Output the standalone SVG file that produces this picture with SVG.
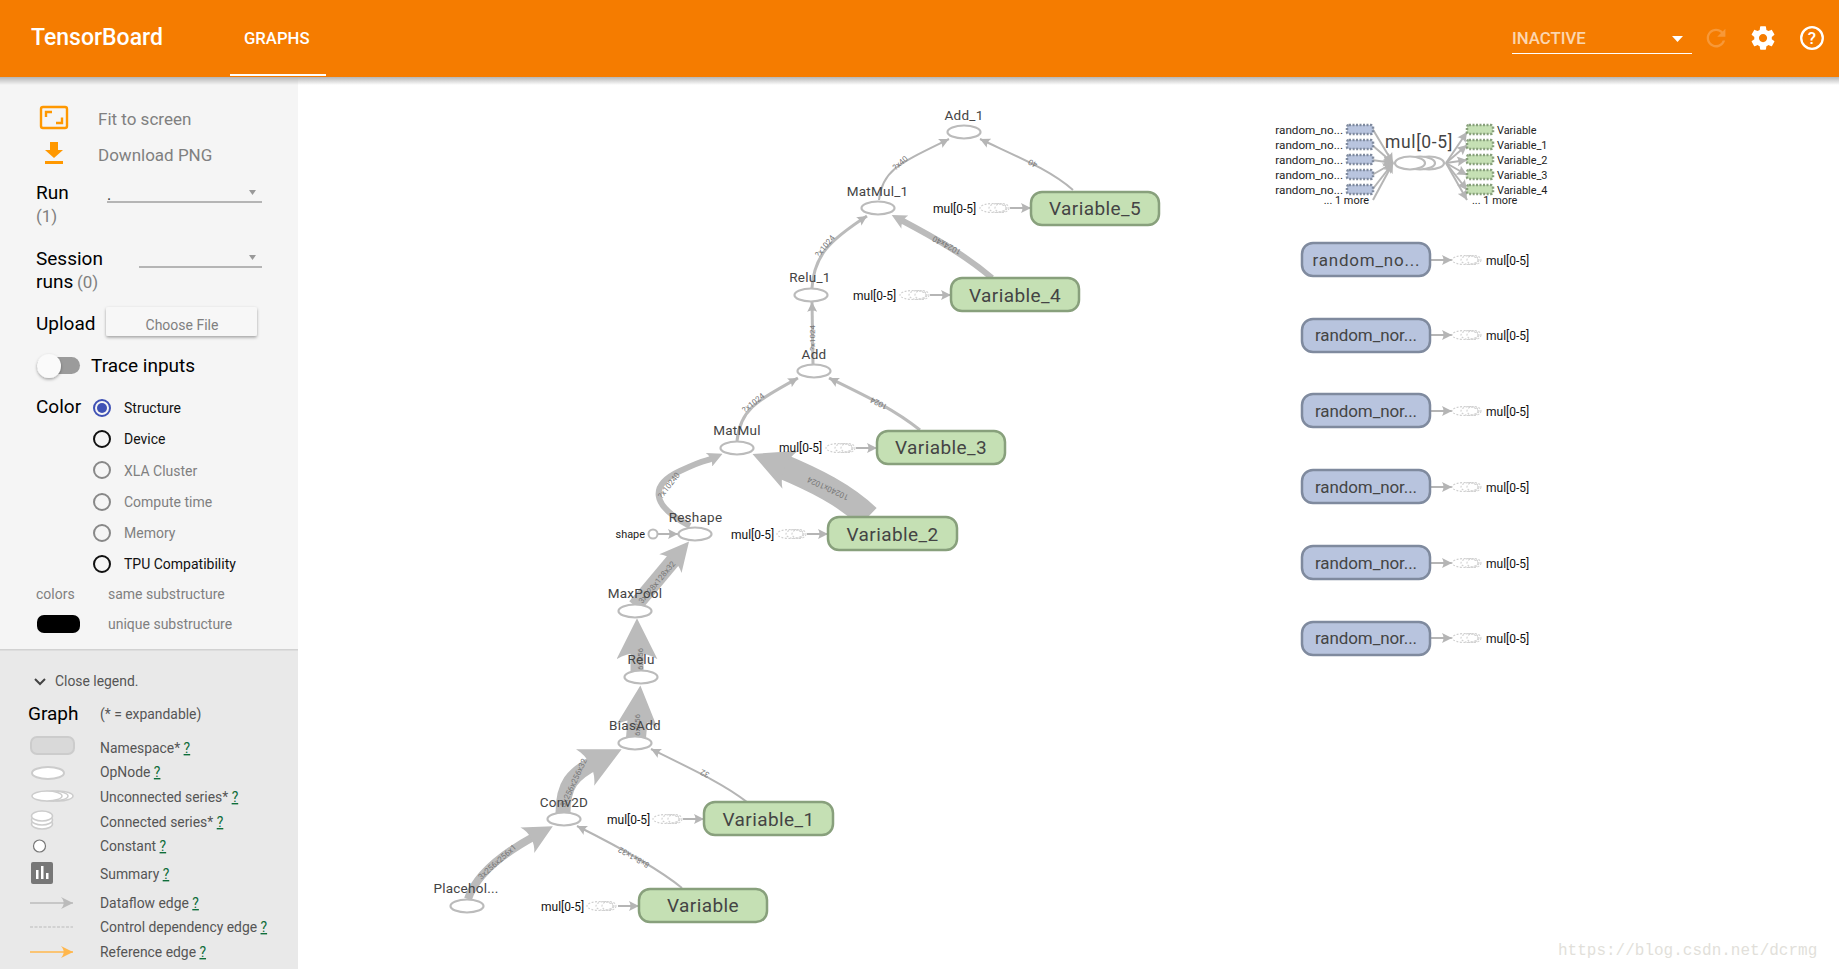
<svg xmlns="http://www.w3.org/2000/svg" width="1839" height="969" viewBox="0 0 1839 969">
<style>
text{font-family:Roboto,"Liberation Sans",sans-serif}
.side{font-size:19px;fill:#000}
.grey{font-size:17px;fill:#808080}
.radio{font-size:14px;fill:#111}
.radiog{font-size:14px;fill:#808080}
.leg{font-size:13.9px;fill:#555}
.q{fill:#0f6d3a;text-decoration:underline}
.op{fill:#fff;stroke:#bbb;stroke-width:2.2}
.opl{font-size:13.5px;fill:#444;text-anchor:middle;letter-spacing:.25px}
.var rect{fill:#c5e0b4;stroke:#88a07c;stroke-width:2.5}
.rnd rect{fill:#b8c4de;stroke:#7f8a9e;stroke-width:2.5}
.box{font-size:19px;fill:#444;text-anchor:middle;letter-spacing:.4px}
.rn{font-size:17px;fill:#444;text-anchor:middle}
.mul{font-size:12px;fill:#111}
.sm{font-size:11.7px;fill:#222}
.smr{font-size:10.9px;fill:#222}
.edge{fill:none;stroke:#bbb}
.thin{fill:none;stroke:#b5b5b5;stroke-width:2}
.el{font-size:8px;fill:#777;text-anchor:middle}
.dash{fill:none;stroke:#d0d0d0;stroke-width:1.1;stroke-dasharray:2 1.5}
.rs{stroke-width:1.2;stroke-dasharray:2 1.5}
</style>
<defs>
<linearGradient id="sh" x1="0" y1="0" x2="0" y2="1"><stop offset="0" stop-color="#b5b5b5"/><stop offset="1" stop-color="#b5b5b5" stop-opacity="0"/></linearGradient>
<filter id="ds" x="-30%" y="-30%" width="160%" height="170%"><feDropShadow dx="0" dy="1.500" stdDeviation="1.800" flood-color="#000" flood-opacity=".35"/></filter>
<marker id="a9" viewBox="0 0 10 10" refX="10" refY="5" markerUnits="userSpaceOnUse" markerWidth="10" markerHeight="10" orient="auto"><path d="M0 0L10 5L0 10C2 7 2 3 0 0Z" fill="#b5b5b5"/></marker>
<marker id="a14" viewBox="0 0 10 10" refX="3" refY="5" markerUnits="userSpaceOnUse" markerWidth="15" markerHeight="15" orient="auto"><path d="M0 0L10 5L0 10C2 7 2 3 0 0Z" fill="#bbb"/></marker>
<marker id="a28" viewBox="0 0 10 10" refX="3" refY="5" markerUnits="userSpaceOnUse" markerWidth="29" markerHeight="29" orient="auto"><path d="M0 0L10 5L0 10C2 7 2 3 0 0Z" fill="#bbb"/></marker>
<marker id="a40" viewBox="0 0 10 10" refX="3" refY="5" markerUnits="userSpaceOnUse" markerWidth="41" markerHeight="41" orient="auto"><path d="M0 0L10 5L0 10C2 7 2 3 0 0Z" fill="#bbb"/></marker>
<marker id="lg" viewBox="0 0 10 10" refX="10" refY="5" markerUnits="userSpaceOnUse" markerWidth="12" markerHeight="12" orient="auto"><path d="M0 0L10 5L0 10C3 7 3 3 0 0Z" fill="#bbb"/></marker>
<marker id="lo" viewBox="0 0 10 10" refX="10" refY="5" markerUnits="userSpaceOnUse" markerWidth="12" markerHeight="12" orient="auto"><path d="M0 0L10 5L0 10C3 7 3 3 0 0Z" fill="#ffb74d"/></marker>
<g id="dashes"><ellipse class="dash" cx="22" cy="0" rx="7" ry="4.500"/><ellipse class="dash" cx="18" cy="0" rx="9" ry="4.500"/><ellipse class="dash" cx="13" cy="0" rx="13" ry="4.500"/></g>
</defs>

<rect width="1839" height="969" fill="#fff"/>

<g id="sidebar">
<rect x="0" y="77" width="298" height="573" fill="#f5f5f5"/>
<rect x="0" y="650" width="298" height="319" fill="#e9e9e9"/>
<rect x="0" y="649" width="298" height="1.500" fill="#d2d2d2"/>
<g fill="none" stroke="#ff9800" stroke-width="2.400"><rect x="41" y="107" width="26" height="21" rx="2"/><path d="M46 117V112H52M62 117.500V123H56"/></g>
<text x="98" y="125" class="grey">Fit to screen</text>
<path d="M50 142H58V150H63L54 158L45 150H50ZM45 161H63V164H45Z" fill="#ff9800"/>
<text x="98" y="161" class="grey">Download PNG</text>
<text x="36" y="199" class="side">Run</text>
<text x="36" y="222" class="grey">(1)</text>
<text x="107" y="200" font-size="16" fill="#333">.</text>
<rect x="107" y="201.500" width="155" height="1" fill="#777"/>
<path d="M249 190H256L252.500 195Z" fill="#999"/>
<text x="36" y="265" class="side">Session</text>
<text x="36" y="288" class="side">runs</text>
<text x="77" y="288" class="grey">(0)</text>
<rect x="139" y="266.500" width="123" height="1" fill="#777"/>
<path d="M249 255H256L252.500 260Z" fill="#999"/>
<text x="36" y="330" class="side">Upload</text>
<rect x="106" y="307" width="151" height="29" rx="2" fill="#f7f7f7" filter="url(#ds)"/>
<text x="182" y="330" font-size="14" fill="#808080" text-anchor="middle">Choose File</text>
<rect x="37" y="357" width="43" height="17" rx="8.500" fill="#9b9b9b"/>
<circle cx="49" cy="366" r="12" fill="#fafafa" filter="url(#ds)"/>
<text x="91" y="372" class="side">Trace inputs</text>
<text x="36" y="413" class="side">Color</text>
<circle cx="102" cy="408" r="8" fill="none" stroke="#3f51b5" stroke-width="2"/><circle cx="102" cy="408" r="5" fill="#3f51b5"/>
<circle cx="102" cy="439" r="8" fill="none" stroke="#111" stroke-width="2"/>
<circle cx="102" cy="470" r="8" fill="none" stroke="#888" stroke-width="2"/>
<circle cx="102" cy="502" r="8" fill="none" stroke="#888" stroke-width="2"/>
<circle cx="102" cy="533" r="8" fill="none" stroke="#888" stroke-width="2"/>
<circle cx="102" cy="564" r="8" fill="none" stroke="#111" stroke-width="2"/>
<text x="124" y="413" class="radio">Structure</text>
<text x="124" y="444" class="radio">Device</text>
<text x="124" y="476" class="radiog">XLA Cluster</text>
<text x="124" y="507" class="radiog">Compute time</text>
<text x="124" y="538" class="radiog">Memory</text>
<text x="124" y="569" class="radio">TPU Compatibility</text>
<text x="36" y="599" class="radiog">colors</text>
<text x="108" y="599" class="radiog">same substructure</text>
<rect x="37" y="615" width="43" height="18" rx="7" fill="#000"/>
<text x="108" y="629" class="radiog">unique substructure</text>
<path d="M35 679L40 684L45 679" fill="none" stroke="#444" stroke-width="2"/>
<text x="55" y="686" class="leg">Close legend.</text>
<text x="28" y="720" class="side">Graph</text>
<text x="100" y="719" class="leg">(* = expandable)</text>
<rect x="31" y="737" width="43" height="17" rx="6" fill="#d9d9d9" stroke="#ccc" stroke-width="2"/>
<text x="100" y="753" class="leg">Namespace* <tspan class="q">?</tspan></text>
<ellipse cx="48" cy="773" rx="16" ry="6" fill="#fff" stroke="#ccc" stroke-width="2"/>
<text x="100" y="777" class="leg">OpNode <tspan class="q">?</tspan></text>
<g fill="#fff" stroke="#ccc" stroke-width="1.500"><ellipse cx="58" cy="796" rx="15" ry="5"/><ellipse cx="53" cy="796" rx="15" ry="5"/><ellipse cx="47" cy="796" rx="15" ry="5"/></g>
<text x="100" y="802" class="leg">Unconnected series* <tspan class="q">?</tspan></text>
<g fill="#fff" stroke="#ccc" stroke-width="1.500"><ellipse cx="42" cy="824" rx="10.500" ry="5"/><ellipse cx="42" cy="820" rx="10.500" ry="5"/><ellipse cx="42" cy="816" rx="10.500" ry="5"/></g>
<text x="100" y="827" class="leg">Connected series* <tspan class="q">?</tspan></text>
<circle cx="39.500" cy="846" r="6" fill="#fff" stroke="#777" stroke-width="1.200"/>
<text x="100" y="851" class="leg">Constant <tspan class="q">?</tspan></text>
<rect x="31" y="862" width="22" height="22" rx="2" fill="#777"/>
<path d="M36 870h2.500v9H36zM41 866h2.500v13H41zM46 873h2.500v6H46z" fill="#fff"/>
<text x="100" y="879" class="leg">Summary <tspan class="q">?</tspan></text>
<path d="M30 903H73" stroke="#bbb" stroke-width="1.500" marker-end="url(#lg)"/>
<text x="100" y="908" class="leg">Dataflow edge <tspan class="q">?</tspan></text>
<path d="M30 927H73" stroke="#bbb" stroke-width="1.200" stroke-dasharray="3 1.500"/>
<text x="100" y="932" class="leg">Control dependency edge <tspan class="q">?</tspan></text>
<path d="M30 952H73" stroke="#ffb74d" stroke-width="1.500" marker-end="url(#lo)"/>
<text x="100" y="957" class="leg">Reference edge <tspan class="q">?</tspan></text>
</g>

<g id="connectors">
<path class="edge" stroke-width="8" marker-end="url(#a28)" d="M468 899C476 875 500 855 535 836"/>
<path class="edge" stroke-width="15" marker-end="url(#a40)" d="M563 813C563 785 572 774 596 762"/>
<path class="edge" stroke-width="20" marker-end="url(#a40)" d="M636 738L638 714"/>
<path class="edge" stroke-width="13" marker-end="url(#a40)" d="M637 672V647"/>
<path class="edge" stroke-width="15" marker-end="url(#a28)" d="M635 606L676 557"/>
<path class="edge" stroke-width="25" marker-end="url(#a40)" d="M868 517C845 495 815 480 779 465"/>
<path class="edge" stroke-width="6" marker-end="url(#a14)" d="M690 526C650 505 650 485 680 471S702 463 713 458"/>
<path class="edge" stroke-width="3" marker-end="url(#a9)" d="M737 441C740 410 755 402 798 378"/>
<path class="edge" stroke-width="3" marker-end="url(#a9)" d="M920 430C895 410 870 398 829 378"/>
<path class="edge" stroke-width="3" marker-end="url(#a9)" d="M813 364L812 302"/>
<path class="edge" stroke-width="3" marker-end="url(#a9)" d="M812 288C814 255 830 240 867 216"/>
<path class="edge" stroke-width="6" marker-end="url(#a14)" d="M992 278C965 255 935 238 901 220"/>
<path class="thin" marker-end="url(#a9)" d="M879 200C882 170 900 163 949 139"/>
<path class="thin" marker-end="url(#a9)" d="M1073 190C1050 170 1020 158 980 139"/>
<path class="thin" marker-end="url(#a9)" d="M747 802C725 785 700 773 651 749"/>
<path class="thin" marker-end="url(#a9)" d="M682 888C660 870 625 850 577 826"/>
<path class="thin" marker-end="url(#a9)" d="M658 534H678"/>
<path class="thin" marker-end="url(#a9)" d="M1010 208H1031"/>
<path class="thin" marker-end="url(#a9)" d="M930 295H951"/>
<path class="thin" marker-end="url(#a9)" d="M856 448H877"/>
<path class="thin" marker-end="url(#a9)" d="M807 534H828"/>
<path class="thin" marker-end="url(#a9)" d="M683 819H704"/>
<path class="thin" marker-end="url(#a9)" d="M618 906H639"/>
<path class="thin" marker-end="url(#a9)" d="M1431 260H1452"/>
<path class="thin" marker-end="url(#a9)" d="M1431 335H1452"/>
<path class="thin" marker-end="url(#a9)" d="M1431 411H1452"/>
<path class="thin" marker-end="url(#a9)" d="M1431 487H1452"/>
<path class="thin" marker-end="url(#a9)" d="M1431 563H1452"/>
<path class="thin" marker-end="url(#a9)" d="M1431 638H1452"/>
<path class="thin" marker-end="url(#a9)" d="M1372 128L1393 163"/>
<path class="thin" marker-end="url(#a9)" d="M1372 145L1393 163"/>
<path class="thin" marker-end="url(#a9)" d="M1372 160L1393 163"/>
<path class="thin" marker-end="url(#a9)" d="M1372 175L1393 163"/>
<path class="thin" marker-end="url(#a9)" d="M1372 190L1393 163"/>
<path class="thin" marker-end="url(#a9)" d="M1373 200L1393 163"/>
<path class="thin" marker-end="url(#a9)" d="M1446 163L1467 132"/>
<path class="thin" marker-end="url(#a9)" d="M1446 163L1467 145"/>
<path class="thin" marker-end="url(#a9)" d="M1446 163L1467 160"/>
<path class="thin" marker-end="url(#a9)" d="M1446 163L1467 175"/>
<path class="thin" marker-end="url(#a9)" d="M1446 163L1467 190"/>
<path class="thin" marker-end="url(#a9)" d="M1446 163L1467 200"/>
<text class="el" transform="translate(902 165) rotate(-40)">?x40</text>
<text class="el" transform="translate(1034 161) rotate(207)">40</text>
<text class="el" transform="translate(948 243) rotate(208)">1024x40</text>
<text class="el" transform="translate(827 248) rotate(-50)">?x1024</text>
<text class="el" transform="translate(815 338) rotate(-90)">?x1024</text>
<text class="el" transform="translate(880 401) rotate(207)">1024</text>
<text class="el" transform="translate(755 405) rotate(-38)">?x1024</text>
<text class="el" transform="translate(671 487) rotate(-52)">?x10240</text>
<text class="el" transform="translate(829 486) rotate(205)">10240x1024</text>
<text class="el" transform="translate(659 584) rotate(-50)">3x128x128x32</text>
<text class="el" transform="translate(643 659) rotate(-90)">6x256</text>
<text class="el" transform="translate(640 725) rotate(-90)">6x256</text>
<text class="el" transform="translate(576 784) rotate(-65)">3x256x256x32</text>
<text class="el" transform="translate(499 864) rotate(-42)">3x256x256x1</text>
<text class="el" transform="translate(635 855) rotate(210)">8x8x1x32</text>
<text class="el" transform="translate(706 771) rotate(205)">32</text>
</g>

<g id="Add_1"><ellipse class="op" cx="964" cy="132" rx="16.500" ry="6.500"/><text class="opl" x="964" y="120">Add_1</text></g>
<g id="MatMul_1"><ellipse class="op" cx="878" cy="208" rx="16.500" ry="6.500"/><text class="opl" x="877.500" y="196">MatMul_1</text></g>
<g id="Relu_1"><ellipse class="op" cx="811" cy="295" rx="16.500" ry="6.500"/><text class="opl" x="810" y="282">Relu_1</text></g>
<g id="Add"><ellipse class="op" cx="814" cy="371" rx="16.500" ry="6.500"/><text class="opl" x="814" y="359">Add</text></g>
<g id="MatMul"><ellipse class="op" cx="737" cy="448" rx="16.500" ry="6.500"/><text class="opl" x="737" y="435">MatMul</text></g>
<g id="Reshape"><ellipse class="op" cx="695" cy="534" rx="16.500" ry="6.500"/><text class="opl" x="695.500" y="522">Reshape</text></g>
<g id="shape"><circle cx="653" cy="534" r="4.500" fill="#fff" stroke="#bbb" stroke-width="2"/><text class="smr" x="645" y="538" text-anchor="end">shape</text></g>
<g id="MaxPool"><ellipse class="op" cx="635" cy="611" rx="16.500" ry="6.500"/><text class="opl" x="635" y="598">MaxPool</text></g>
<g id="Relu"><ellipse class="op" cx="641" cy="677" rx="16.500" ry="6.500"/><text class="opl" x="641" y="664">Relu</text></g>
<g id="BiasAdd"><ellipse class="op" cx="635" cy="743" rx="16.500" ry="6.500"/><text class="opl" x="635" y="730">BiasAdd</text></g>
<g id="Conv2D"><ellipse class="op" cx="564" cy="819" rx="16.500" ry="6.500"/><text class="opl" x="564" y="807">Conv2D</text></g>
<g id="Placeholder"><ellipse class="op" cx="467" cy="906" rx="16.500" ry="6.500"/><text class="opl" x="466" y="893">Placehol...</text></g>

<g id="Variable_5" class="var"><rect x="1031" y="192" width="128" height="33" rx="11"/><text class="box" x="1095" y="215">Variable_5</text><text class="mul" x="933" y="212.500">mul[0-5]</text><use href="#dashes" x="980" y="208"/></g>
<g id="Variable_4" class="var"><rect x="951" y="278" width="128" height="33" rx="11"/><text class="box" x="1015" y="302">Variable_4</text><text class="mul" x="853" y="299.500">mul[0-5]</text><use href="#dashes" x="900" y="295"/></g>
<g id="Variable_3" class="var"><rect x="877" y="431" width="128" height="33" rx="11"/><text class="box" x="941" y="454">Variable_3</text><text class="mul" x="779" y="451.500">mul[0-5]</text><use href="#dashes" x="826" y="448"/></g>
<g id="Variable_2" class="var"><rect x="828" y="517" width="129" height="33" rx="11"/><text class="box" x="892.500" y="541">Variable_2</text><text class="mul" x="731" y="538.500">mul[0-5]</text><use href="#dashes" x="777" y="534"/></g>
<g id="Variable_1" class="var"><rect x="704" y="802" width="129" height="33" rx="11"/><text class="box" x="768.500" y="826">Variable_1</text><text class="mul" x="607" y="823.500">mul[0-5]</text><use href="#dashes" x="653" y="819"/></g>
<g id="Variable" class="var"><rect x="639" y="889" width="128" height="33" rx="11"/><text class="box" x="703" y="912">Variable</text><text class="mul" x="541" y="910.500">mul[0-5]</text><use href="#dashes" x="587" y="906"/></g>

<g id="random_normal" class="rnd"><rect x="1302" y="243" width="128" height="33" rx="11"/><text class="rn" x="1366" y="266" textLength="107">random_no...</text><use href="#dashes" x="1452" y="260"/><text class="mul" x="1486" y="264.500">mul[0-5]</text></g>
<g id="random_normal_1" class="rnd"><rect x="1302" y="319" width="128" height="33" rx="11"/><text class="rn" x="1366" y="341" textLength="102">random_nor...</text><use href="#dashes" x="1452" y="335"/><text class="mul" x="1486" y="339.500">mul[0-5]</text></g>
<g id="random_normal_2" class="rnd"><rect x="1302" y="394" width="128" height="33" rx="11"/><text class="rn" x="1366" y="417" textLength="102">random_nor...</text><use href="#dashes" x="1452" y="411"/><text class="mul" x="1486" y="415.500">mul[0-5]</text></g>
<g id="random_normal_3" class="rnd"><rect x="1302" y="470" width="128" height="33" rx="11"/><text class="rn" x="1366" y="493" textLength="102">random_nor...</text><use href="#dashes" x="1452" y="487"/><text class="mul" x="1486" y="491.500">mul[0-5]</text></g>
<g id="random_normal_4" class="rnd"><rect x="1302" y="546" width="128" height="33" rx="11"/><text class="rn" x="1366" y="569" textLength="102">random_nor...</text><use href="#dashes" x="1452" y="563"/><text class="mul" x="1486" y="567.500">mul[0-5]</text></g>
<g id="random_normal_5" class="rnd"><rect x="1302" y="622" width="128" height="33" rx="11"/><text class="rn" x="1366" y="644" textLength="102">random_nor...</text><use href="#dashes" x="1452" y="638"/><text class="mul" x="1486" y="642.500">mul[0-5]</text></g>

<g id="mul_series">
<g class="rnd"><rect class="rs" x="1347" y="125" width="26" height="9" rx="2"/><rect class="rs" x="1347" y="140" width="26" height="9" rx="2"/><rect class="rs" x="1347" y="155" width="26" height="9" rx="2"/><rect class="rs" x="1347" y="170" width="26" height="9" rx="2"/><rect class="rs" x="1347" y="185" width="26" height="9" rx="2"/></g>
<g class="var"><rect class="rs" x="1467" y="125" width="26" height="9" rx="2"/><rect class="rs" x="1467" y="140" width="26" height="9" rx="2"/><rect class="rs" x="1467" y="155" width="26" height="9" rx="2"/><rect class="rs" x="1467" y="170" width="26" height="9" rx="2"/><rect class="rs" x="1467" y="185" width="26" height="9" rx="2"/></g>
<g text-anchor="end"><text class="sm" x="1343" y="134">random_no...</text><text class="sm" x="1343" y="149">random_no...</text><text class="sm" x="1343" y="164">random_no...</text><text class="sm" x="1343" y="179">random_no...</text><text class="sm" x="1343" y="194">random_no...</text><text class="smr" x="1369" y="204">... 1 more</text></g>
<text class="smr" x="1497" y="134">Variable</text><text class="smr" x="1497" y="149">Variable_1</text><text class="smr" x="1497" y="164">Variable_2</text><text class="smr" x="1497" y="179">Variable_3</text><text class="smr" x="1497" y="194">Variable_4</text><text class="smr" x="1472" y="204">... 1 more</text>
<text x="1419" y="148" font-size="17.500" fill="#444" text-anchor="middle" letter-spacing=".6">mul[0-5]</text>
<ellipse class="op" cx="1429" cy="163" rx="15" ry="6.500"/><ellipse class="op" cx="1420" cy="163" rx="15" ry="6.500"/><ellipse class="op" cx="1410" cy="163" rx="15" ry="6.500"/>
</g>

<g id="header">
<rect x="0" y="77" width="1839" height="8" fill="url(#sh)"/>
<rect width="1839" height="77" fill="#f57c00"/>
<text x="31" y="45" font-size="23" font-weight="500" fill="#fff">TensorBoard</text>
<text x="244" y="44" font-size="16.700" font-weight="500" fill="#fff">GRAPHS</text>
<rect x="230" y="74" width="96" height="2" fill="#fff"/>
<text x="1512" y="44" font-size="16.800" font-weight="500" fill="#fff" fill-opacity=".7">INACTIVE</text>
<rect x="1512" y="53" width="180" height="1" fill="#fff"/>
<path d="M1672 36H1683L1677.500 42Z" fill="#fff"/>
<path transform="translate(1702 24) scale(1.170)" fill="#fff" fill-opacity=".22" d="M17.650 6.350C16.200 4.900 14.210 4 12 4c-4.420 0-7.990 3.580-7.990 8s3.570 8 7.990 8c3.730 0 6.840-2.550 7.730-6h-2.080c-.820 2.330-3.040 4-5.650 4-3.310 0-6-2.690-6-6s2.690-6 6-6c1.660 0 3.140.690 4.220 1.780L13 11h7V4l-2.350 2.350z"/>
<path transform="translate(1749 24) scale(1.170)" fill="#fff" d="M19.430 12.980c.04-.32.07-.64.07-.98s-.03-.66-.07-.98l2.110-1.650c.19-.15.24-.42.12-.64l-2-3.460c-.12-.22-.39-.3-.61-.22l-2.490 1c-.52-.4-1.080-.73-1.690-.98l-.38-2.650C14.460 2.180 14.250 2 14 2h-4c-.25 0-.46.18-.49.42l-.38 2.650c-.61.25-1.170.59-1.690.98l-2.490-1c-.23-.09-.49 0-.61.22l-2 3.460c-.13.22-.07.49.12.64l2.110 1.650c-.04.32-.07.65-.07.98s.03.66.07.98l-2.110 1.650c-.19.15-.24.42-.12.64l2 3.460c.12.22.39.3.61.22l2.490-1c.52.4 1.080.73 1.690.98l.38 2.650c.03.24.24.42.49.42h4c.25 0 .46-.18.49-.42l.38-2.650c.61-.25 1.170-.59 1.690-.98l2.490 1c.23.09.49 0 .61-.22l2-3.460c.12-.22.07-.49-.12-.64l-2.110-1.650zM12 15.500c-1.930 0-3.500-1.570-3.500-3.500s1.570-3.500 3.500-3.500 3.500 1.570 3.500 3.500-1.570 3.500-3.500 3.500z"/>
<circle cx="1812" cy="38" r="10.800" fill="none" stroke="#fff" stroke-width="2.300"/>
<text x="1812" y="44" font-size="17" font-weight="500" fill="#fff" text-anchor="middle">?</text>
</g>

<text x="1558" y="955" font-size="16" fill="#e2dfda" style="font-family:'Liberation Mono',monospace">https://blog.csdn.net/dcrmg</text>
</svg>
